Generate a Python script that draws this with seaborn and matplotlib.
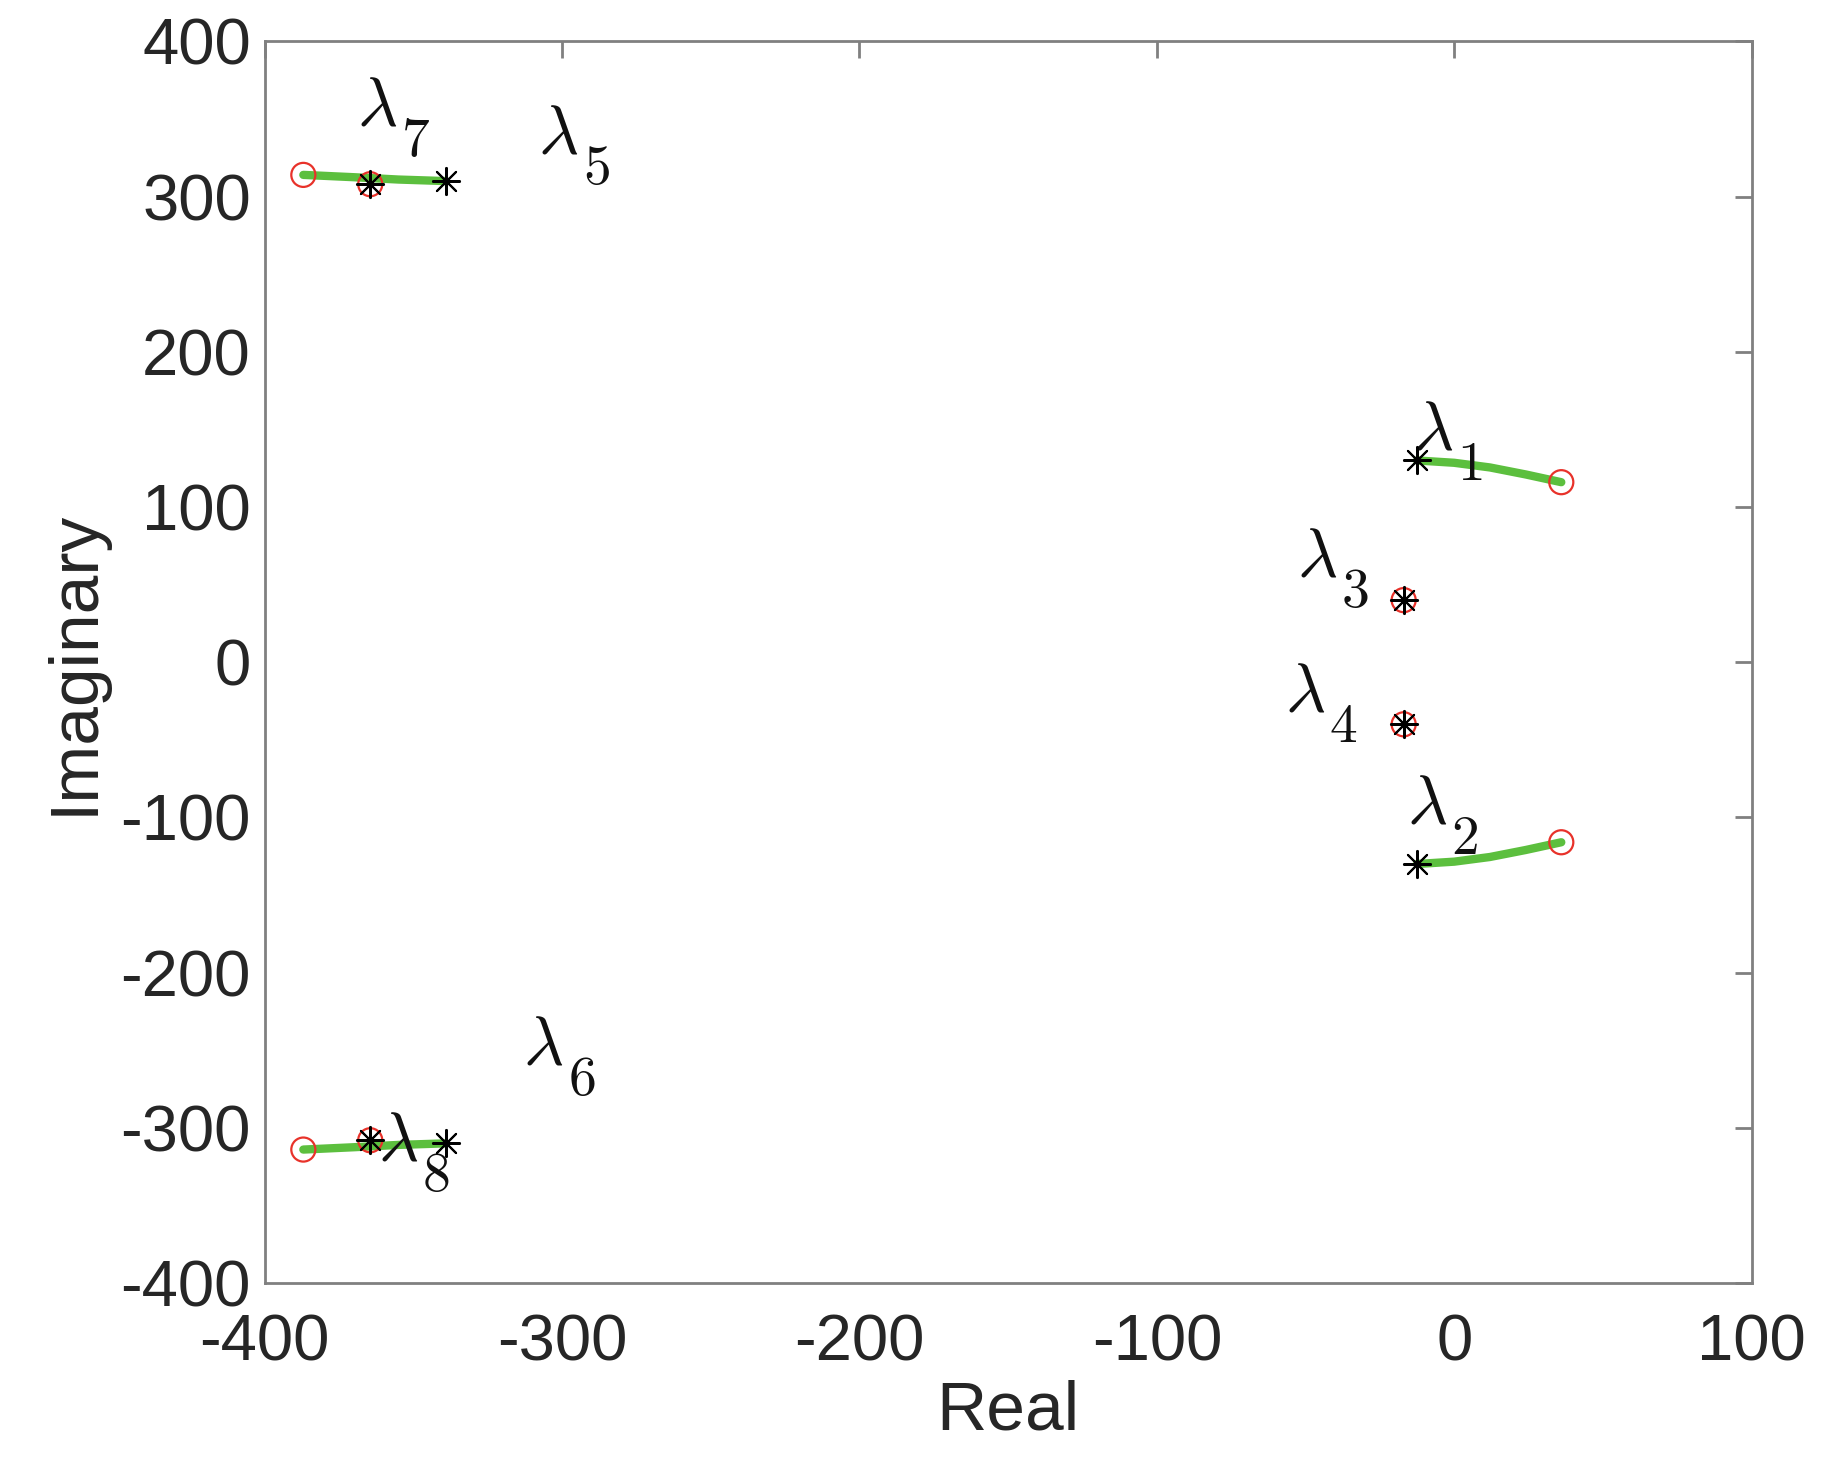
import numpy as np
import matplotlib
matplotlib.use("Agg")
import matplotlib.pyplot as plt
import seaborn as sns

sns.set_theme(style="white")
plt.rcParams['font.family'] = ['Liberation Sans', 'DejaVu Sans']
plt.rcParams['mathtext.fontset'] = 'cm'
plt.rcParams['axes.unicode_minus'] = False

# trajectories (real, imag)
traj1_re = [-12.5, 0, 12, 24, 36]
traj1_im = [130, 128.5, 125.5, 121, 116]
traj2_re = traj1_re
traj2_im = [-v for v in traj1_im]
traj7_re = [-387, -370, -355, -339]
traj7_im = [314, 312.5, 311, 310]
traj8_re = traj7_re
traj8_im = [-v for v in traj7_im]

star_re = [-12.5, -12.5, -17, -17, -339, -339, -364.5, -364.5]
star_im = [130, -130, 40, -40, 310, -310, 308, -308]
circ_re = [36, 36, -17, -17, -387, -387, -364.5, -364.5]
circ_im = [116, -116, 40, -40, 314, -314, 308, -308]

lab_sub = ['1', '2', '3', '4', '5', '6', '7', '8']
lab_re = [-14, -16, -53, -57, -308, -313, -369, -362]
lab_im = [137, -104, 55, -32, 328, -259, 346, -321]

fig = plt.figure(figsize=(18.38, 14.79), dpi=100)
ax = fig.add_axes([0.144, 0.1325, 0.809, 0.8395])
green = '#5cbf3e'
for xs, ys in [(traj1_re, traj1_im), (traj2_re, traj2_im), (traj7_re, traj7_im), (traj8_re, traj8_im)]:
    sns.lineplot(x=xs, y=ys, ax=ax, color=green, lw=6, sort=False, estimator=None)
ax.scatter(circ_re, circ_im, s=300, facecolors='none', edgecolors='#e8322a', linewidths=1.6, zorder=3)
ax.scatter(star_re, star_im, s=380, marker=(8, 2, 0), color='black', linewidths=1.5, zorder=4)
for t, x, y in zip(lab_sub, lab_re, lab_im):
    ax.text(x, y, r'$\lambda$', fontsize=50, ha='left', va='baseline', color='#111111')
    ax.annotate('$' + t + '$', xy=(x, y), xytext=(32, -22), textcoords='offset points',
                fontsize=40, ha='left', va='baseline', color='#111111')

ax.set_xlim(-400, 100)
ax.set_ylim(-400, 400)
ax.set_xticks(range(-400, 101, 100))
ax.set_yticks(range(-400, 401, 100))
for s in ax.spines.values():
    s.set_color('#808080'); s.set_linewidth(2)
ax.tick_params(axis='both', labelsize=47, colors='#808080', labelcolor='#262626',
               direction='in', length=12, width=2, top=True, right=True)
ax.tick_params(axis='x', pad=22)
ax.tick_params(axis='y', pad=10)
ax.set_xlabel('Real', fontsize=50, color='#262626', labelpad=4)
ax.set_ylabel('Imaginary', fontsize=50, color='#262626', labelpad=10)
fig.savefig('out.png', dpi=100)
